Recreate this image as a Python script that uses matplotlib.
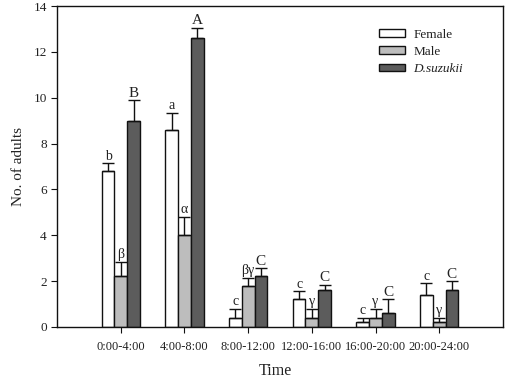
import numpy as np
import matplotlib.pyplot as plt

plt.rcParams['font.family'] = ['Liberation Serif', 'DejaVu Serif']

times = ['0:00-4:00', '4:00-8:00', '8:00-12:00', '12:00-16:00', '16:00-20:00', '20:00-24:00']

female = [6.8, 8.6, 0.4, 1.2, 0.2, 1.4]
female_err = [0.35, 0.75, 0.4, 0.35, 0.2, 0.5]
female_lab = ['b', 'a', 'c', 'c', 'c', 'c']

male = [2.2, 4.0, 1.8, 0.4, 0.4, 0.2]
male_err = [0.65, 0.8, 0.35, 0.4, 0.4, 0.2]
male_lab = ['\u03b2', '\u03b1', '\u03b2\u03b3', '\u03b3', '\u03b3', '\u03b3']

suzukii = [9.0, 12.6, 2.2, 1.6, 0.6, 1.6]
suzukii_err = [0.9, 0.45, 0.35, 0.25, 0.6, 0.4]
suzukii_lab = ['B', 'A', 'C', 'C', 'C', 'C']

series = [
    ('Female', female, female_err, female_lab, 'white'),
    ('Male', male, male_err, male_lab, '#bdbdbd'),
    ('D.suzukii', suzukii, suzukii_err, suzukii_lab, '#5c5c5c'),
]

fig = plt.figure(figsize=(5.1, 3.81), dpi=100)
ax = fig.add_axes([0.112, 0.142, 0.874, 0.842])

x = np.arange(len(times))
w = 0.2
txt = '#222222'
for i, (name, vals, err, labs, col) in enumerate(series):
    pos = x + (i - 1) * w
    ax.bar(pos, vals, width=w, color=col, edgecolor='#111111', linewidth=1.0,
           label=name, zorder=2)
    ax.errorbar(pos, vals, yerr=[np.zeros(len(vals)), err], fmt='none',
                ecolor='#111111', elinewidth=1.0, capsize=4, capthick=1.0, zorder=3)
    for p, v, e, l in zip(pos, vals, err, labs):
        fs = 11 if l.isupper() else 10
        ax.text(p, v + e + 0.02, l, ha='center', va='bottom', fontsize=fs, color=txt)

ax.set_xlim(-1, 6)
ax.set_ylim(0, 14)
ax.set_xticks(x)
ax.set_xticklabels(times)
ax.set_yticks(range(0, 15, 2))
ax.tick_params(direction='out', length=4, labelsize=9.5, colors='#111111', labelcolor=txt)
ax.tick_params(axis='x', labelsize=9, pad=6)
for s in ax.spines.values():
    s.set_linewidth(1.0)
    s.set_color('#111111')
ax.set_xlabel('Time', fontsize=11.5, color=txt)
ax.set_ylabel('No. of adults', fontsize=11, color=txt)
ax.xaxis.label.set_va('center')
ax.yaxis.label.set_va('center')
ax.xaxis.set_label_coords(0.49, -0.137)
ax.yaxis.set_label_coords(-0.087, 0.5)

leg = ax.legend(loc='upper left', bbox_to_anchor=(0.722, 0.93), frameon=False,
                fontsize=9.5, handlelength=2.0, handleheight=0.5, labelspacing=0.4,
                borderpad=0, borderaxespad=0, handletextpad=0.6)
for t in leg.get_texts():
    t.set_color(txt)
leg.get_texts()[2].set_style('italic')

fig.savefig('out.png', dpi=100)
